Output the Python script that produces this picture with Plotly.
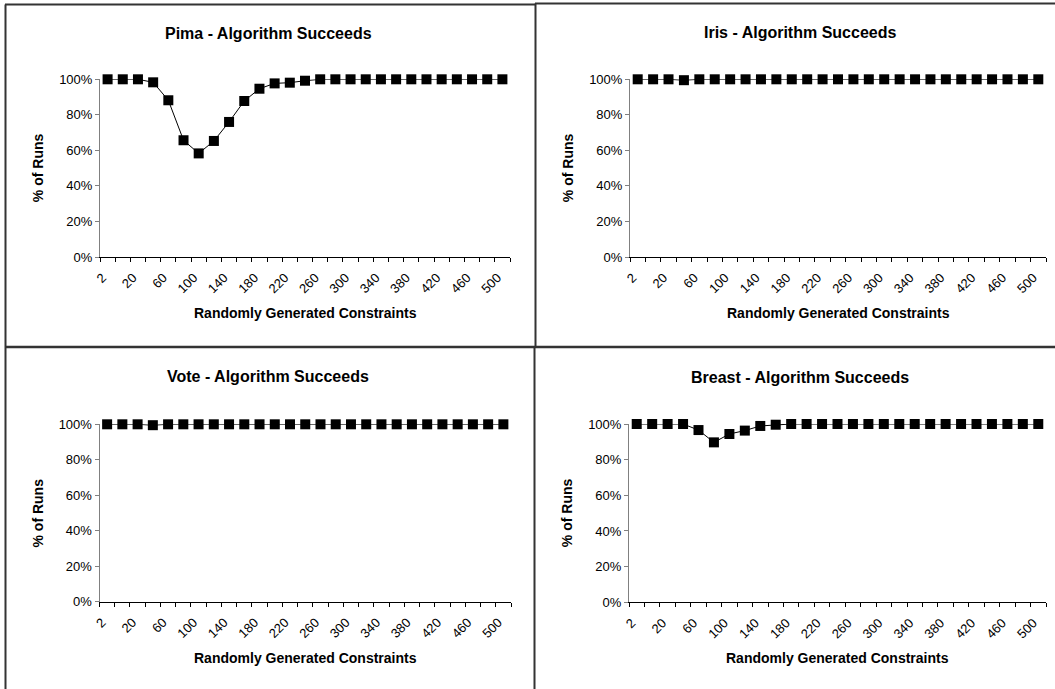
import plotly.graph_objects as go

W, H = 1055, 689

constraints = [2, 10, 20, 40, 60, 80, 100, 120, 140, 160, 180, 200, 220, 240, 260, 280,
               300, 320, 340, 360, 380, 400, 420, 440, 460, 480, 500]

pima = [1.00, 1.00, 1.00, 0.983, 0.882, 0.657, 0.583, 0.653, 0.76, 0.878, 0.947, 0.977,
        0.981, 0.992, 1.00, 1.00, 1.00, 1.00, 1.00, 1.00, 1.00, 1.00, 1.00, 1.00, 1.00, 1.00, 1.00]
iris = [1.00, 1.00, 1.00, 0.995, 1.00, 1.00, 1.00, 1.00, 1.00, 1.00, 1.00, 1.00, 1.00, 1.00,
        1.00, 1.00, 1.00, 1.00, 1.00, 1.00, 1.00, 1.00, 1.00, 1.00, 1.00, 1.00, 1.00]
vote = [1.00, 1.00, 1.00, 0.995, 1.00, 1.00, 1.00, 1.00, 1.00, 1.00, 1.00, 1.00, 1.00, 1.00,
        1.00, 1.00, 1.00, 1.00, 1.00, 1.00, 1.00, 1.00, 1.00, 1.00, 1.00, 1.00, 1.00]
breast = [1.00, 1.00, 1.00, 1.00, 0.966, 0.897, 0.944, 0.963, 0.989, 0.996, 1.00, 1.00, 1.00,
          1.00, 1.00, 1.00, 1.00, 1.00, 1.00, 1.00, 1.00, 1.00, 1.00, 1.00, 1.00, 1.00, 1.00]

titles = ["Pima - Algorithm Succeeds", "Iris - Algorithm Succeeds",
          "Vote - Algorithm Succeeds", "Breast - Algorithm Succeeds"]
series = [pima, iris, vote, breast]

# plot-area pixel boxes (x0, x1, ytop, ybottom)
boxes = [(100, 510, 79.3, 257), (630, 1046, 79.3, 257),
         (99.5, 511, 424.3, 601.7), (629, 1046, 424, 602.3)]
# chart title centres (x, y) in pixels
title_pos = [(268, 33.3), (800, 32.8), (268, 376.7), (800, 377)]

FONT = "Liberation Sans, Arial, sans-serif"
cats = [str(c) for c in constraints]
ticktext = [c if i % 2 == 0 else "" for i, c in enumerate(cats)]

fig = go.Figure()
layout = dict(width=W, height=H, autosize=False, margin=dict(l=0, r=0, t=0, b=0, pad=0),
              paper_bgcolor="white", plot_bgcolor="white", showlegend=False,
              font=dict(family=FONT, color="black"))
annotations = []
for i, (vals, title, box, tp) in enumerate(zip(series, titles, boxes, title_pos)):
    n = "" if i == 0 else str(i + 1)
    x0, x1, yt, yb = box
    fig.add_trace(go.Scatter(
        x=cats, y=vals, mode="lines+markers", xaxis="x" + n, yaxis="y" + n,
        line=dict(color="black", width=1),
        marker=dict(symbol="square", size=10, color="black"),
        cliponaxis=False))
    layout["xaxis" + n] = dict(
        domain=[x0 / W, x1 / W], anchor="y" + n, type="category", automargin=False,
        range=[-0.5, len(cats) - 0.5], tickmode="array", tickvals=cats, ticktext=ticktext,
        tickson="boundaries", ticks="outside", ticklen=4, tickcolor="black",
        showline=True, linecolor="black", linewidth=1, showgrid=False, zeroline=False,
        tickangle=-45, ticklabelshift=-5, ticklabelstandoff=7,
        tickfont=dict(size=13, family=FONT, color="black"))
    layout["yaxis" + n] = dict(
        domain=[1 - yb / H, 1 - yt / H], anchor="x" + n, range=[0, 1], automargin=False,
        tickvals=[0, 0.2, 0.4, 0.6, 0.8, 1.0], tickformat=".0%",
        ticks="outside", ticklen=4, tickcolor="#808080",
        showline=True, linecolor="#808080", linewidth=1, showgrid=False, zeroline=False,
        tickfont=dict(size=13, family=FONT, color="black"))
    annotations.append(dict(text="<b>" + title + "</b>", x=tp[0] / W, y=1 - tp[1] / H,
                            xref="paper", yref="paper", showarrow=False,
                            font=dict(size=16, family=FONT),
                            xanchor="center", yanchor="middle"))
    annotations.append(dict(text="<b>Randomly Generated Constraints</b>",
                            x=(x0 + x1) / 2 / W, y=1 - (yb + 56) / H,
                            xref="paper", yref="paper", showarrow=False,
                            font=dict(size=14, family=FONT), xanchor="center", yanchor="middle"))
    annotations.append(dict(text="<b>% of Runs</b>", x=(x0 - 62) / W, y=1 - ((yt + yb) / 2) / H,
                            xref="paper", yref="paper", showarrow=False, textangle=-90,
                            font=dict(size=14, family=FONT), xanchor="center", yanchor="middle"))

layout["annotations"] = annotations

line_col = "#333333"
def seg(xa, ya, xb, yb_, w=2):
    return dict(type="line", xref="paper", yref="paper", x0=xa / W, y0=1 - ya / H,
                x1=xb / W, y1=1 - yb_ / H, line=dict(color=line_col, width=w))

layout["shapes"] = [
    seg(5.5, 4.5, 5.5, 689),
    seg(5, 4.5, 535.5, 4.5),
    seg(535.5, 3.5, 535.5, 347),
    seg(535, 3.5, 1055, 3.5),
    seg(5, 347, 1055, 347, 2.5),
    seg(534.5, 347, 534.5, 689),
]
fig.update_layout(**layout)
fig.write_html("out.html", config={"displayModeBar": False},
               post_script="document.body.style.margin='0';document.body.style.overflow='hidden';")
